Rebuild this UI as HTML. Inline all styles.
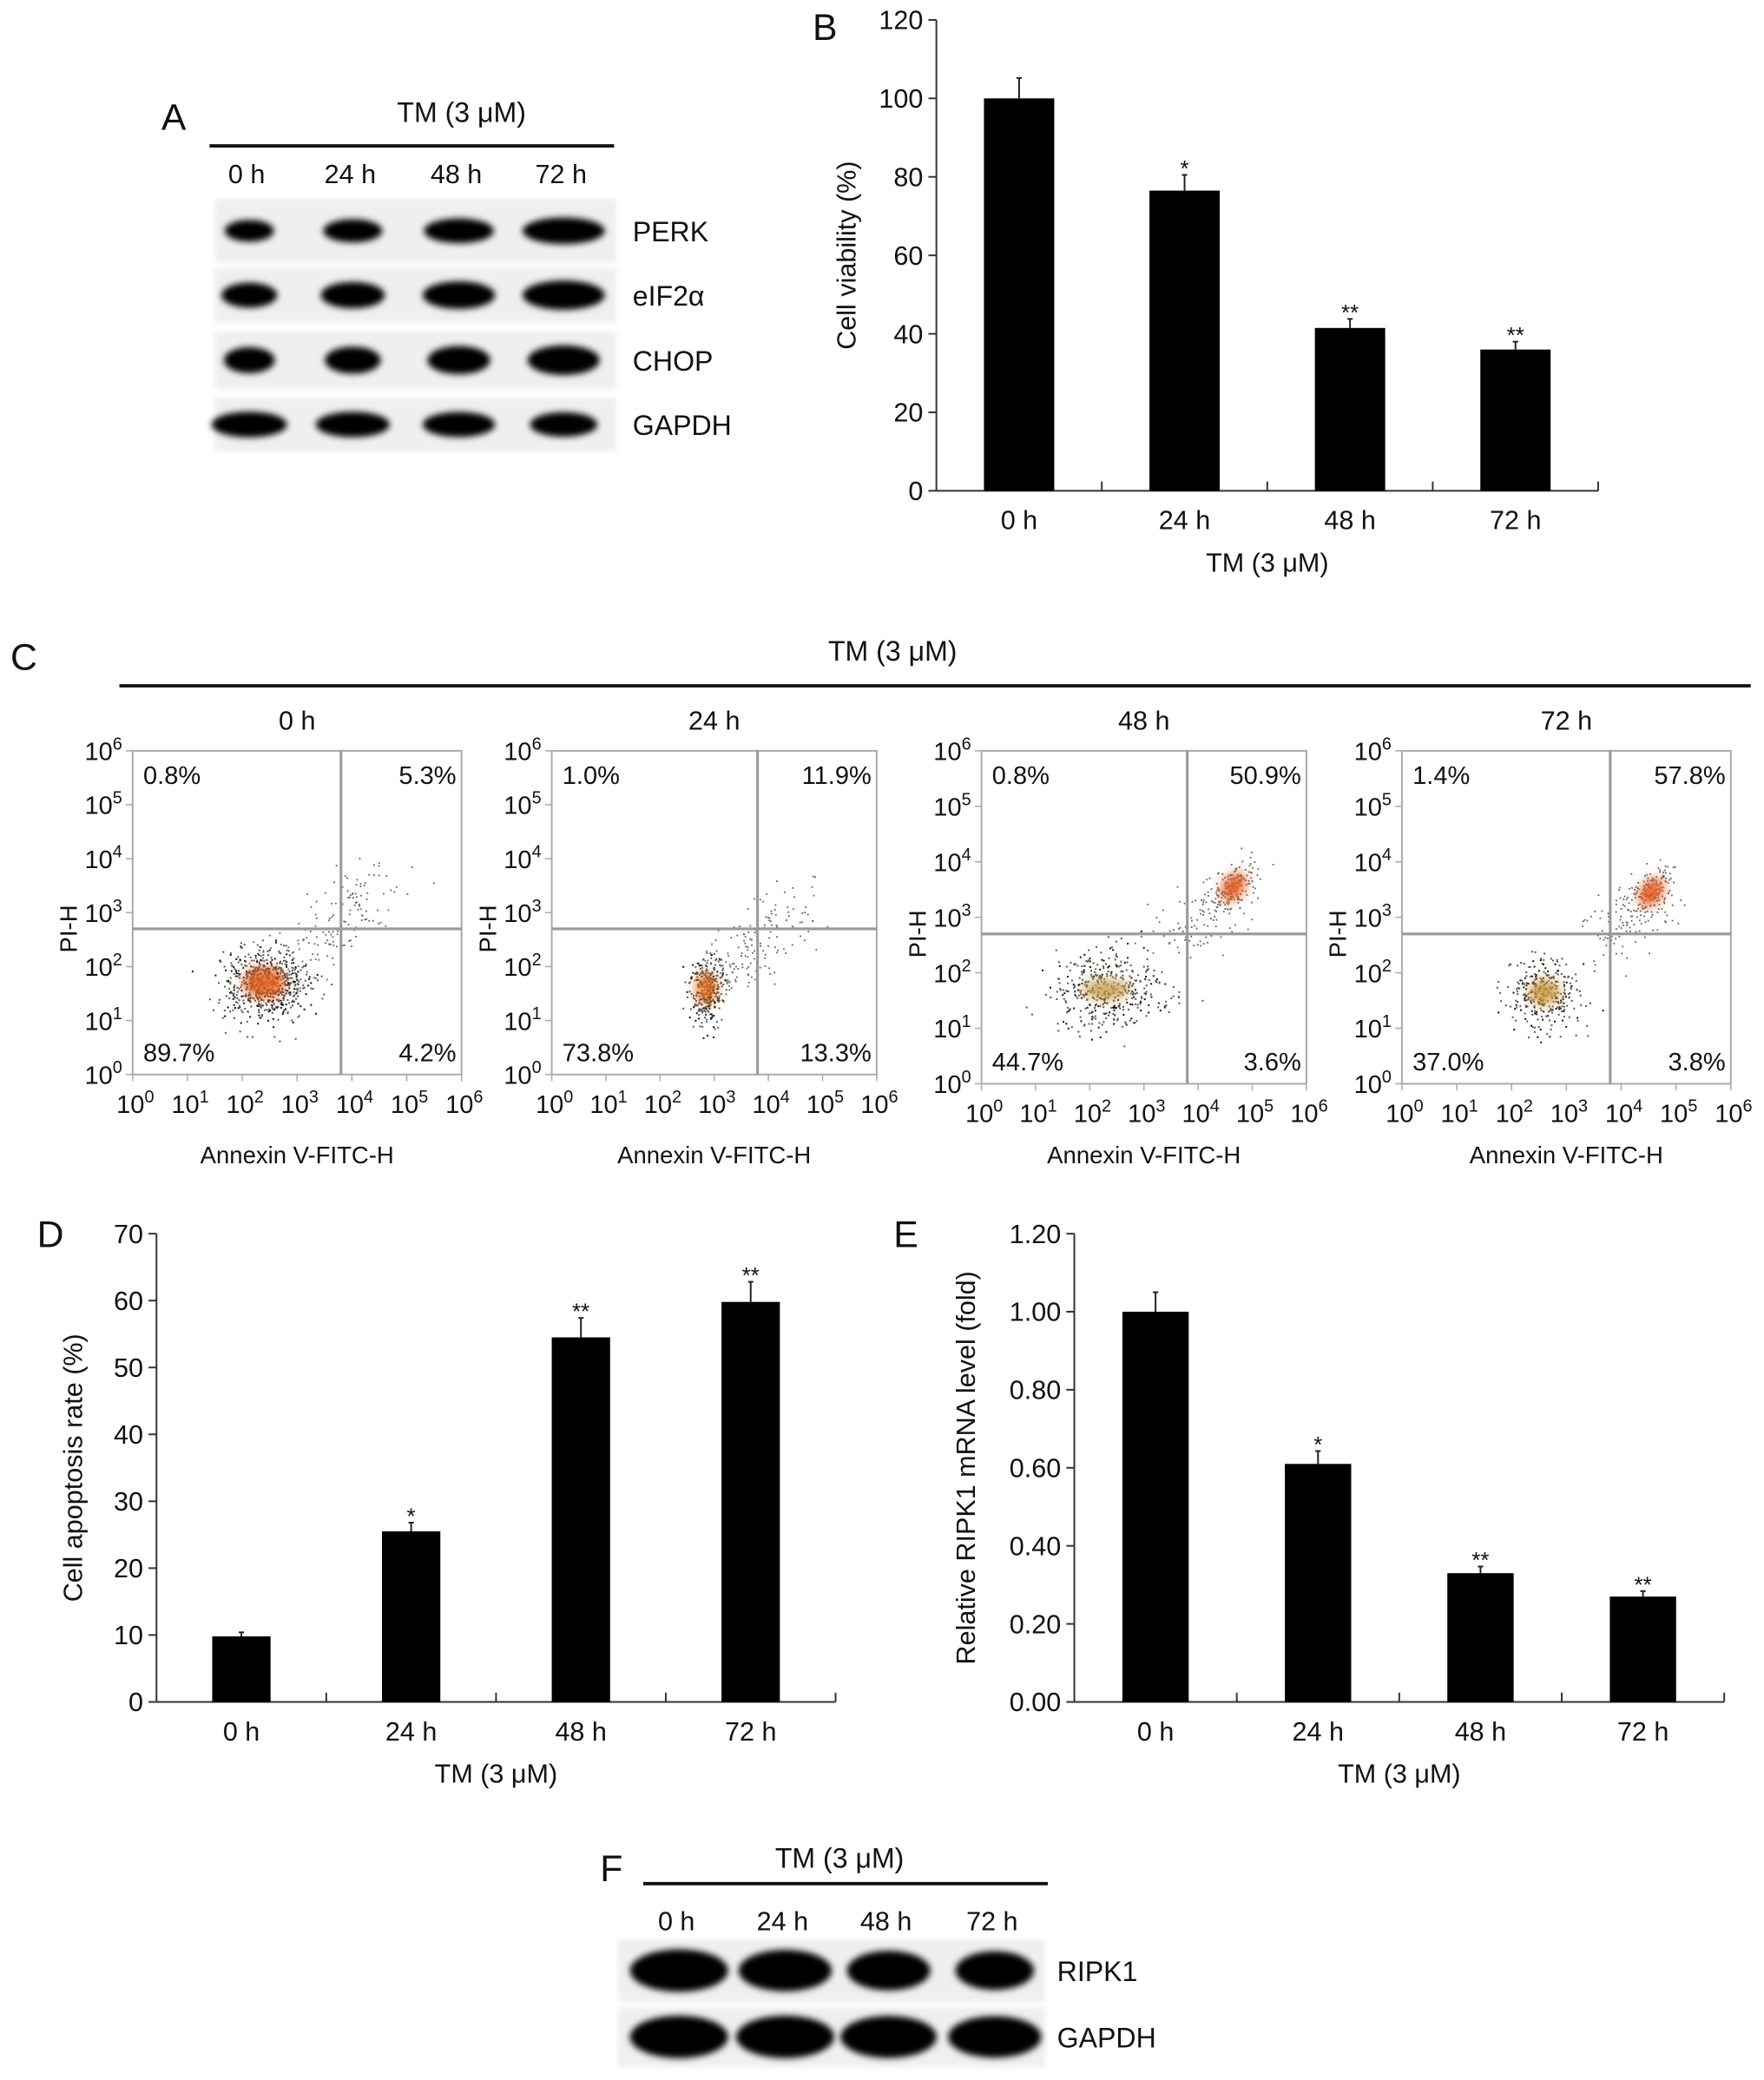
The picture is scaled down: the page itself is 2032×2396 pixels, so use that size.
<!DOCTYPE html>
<html><head><meta charset="utf-8"><style>
html,body{margin:0;padding:0;background:#fff;}
svg{display:block;}
text{font-family:"Liberation Sans",Arial,sans-serif;fill:#111;}
</style></head><body>
<svg id="fig" xmlns="http://www.w3.org/2000/svg" width="2032" height="2396" viewBox="0 0 1330 1568" preserveAspectRatio="none">
<defs>
<filter id="blur" x="-30%" y="-60%" width="160%" height="220%"><feGaussianBlur stdDeviation="2.5"/></filter>
<filter id="blur2" x="-10%" y="-20%" width="120%" height="140%"><feGaussianBlur stdDeviation="2"/></filter>
<filter id="blurc" x="-50%" y="-50%" width="200%" height="200%"><feGaussianBlur stdDeviation="4"/></filter>
</defs>
<g id="root"></g>
</svg>
<script>
// ---- Panel B data ----
const bCategories = ["0 h","24 h","48 h","72 h"];
const bValues = [100, 76.5, 41.5, 36];
const bErrors = [5.2, 4, 2.3, 2];
const bStars = ["", "*", "**", "**"];
const bTicks = [0,20,40,60,80,100,120];
// ---- Panel D data ----
const dCategories = ["0 h","24 h","48 h","72 h"];
const dValues = [9.8, 25.5, 54.5, 59.8];
const dErrors = [0.6, 1.3, 2.9, 3.0];
const dStars = ["", "*", "**", "**"];
const dTicks = [0,10,20,30,40,50,60,70];
// ---- Panel E data ----
const eCategories = ["0 h","24 h","48 h","72 h"];
const eValues = [1.0, 0.61, 0.33, 0.27];
const eErrors = [0.05, 0.033, 0.017, 0.014];
const eStars = ["", "*", "**", "**"];
const eTicks = [0,0.2,0.4,0.6,0.8,1.0,1.2];
const eTickLabels = ["0.00","0.20","0.40","0.60","0.80","1.00","1.20"];
// ---- Flow cytometry data ----
const flowTimes = ["0 h","24 h","48 h","72 h"];
const flowUL = ["0.8%","1.0%","0.8%","1.4%"];
const flowUR = ["5.3%","11.9%","50.9%","57.8%"];
const flowLL = ["89.7%","73.8%","44.7%","37.0%"];
const flowLR = ["4.2%","13.3%","3.6%","3.8%"];
// live-cell cluster centres (log10 units) and apoptotic cluster centres
const flowLiveX = [2.4, 2.85, 2.3, 2.6];
const flowLiveY = [1.7, 1.6, 1.7, 1.65];
const flowApopX = [4.7, 4.6, 4.65, 4.55];
const flowApopY = [3.6, 3.2, 3.55, 3.45];
// ---- Western blot band intensities (relative width) ----
const wbA_PERK = [0.6, 0.72, 0.85, 1.0];
const wbA_eIF = [0.68, 0.78, 0.88, 1.0];
const wbA_CHOP = [0.6, 0.66, 0.74, 0.85];
const wbA_GAPDH = [0.92, 0.9, 0.88, 0.82];
const wbF_RIPK1 = [1.0, 0.95, 0.85, 0.8];
const wbF_GAPDH = [1.0, 1.0, 0.98, 0.95];

const NS="http://www.w3.org/2000/svg";
const root=document.getElementById('root');
function el(tag,attrs,parent){const e=document.createElementNS(NS,tag);for(const k in attrs)e.setAttribute(k,attrs[k]);(parent||root).appendChild(e);return e;}
function txt(s,x,y,size,anchor,parent,extra){const t=el('text',Object.assign({x:x,y:y,'font-size':size,'text-anchor':anchor||'middle'},extra||{}),parent);t.textContent=s;return t;}

// ---------- Bar charts ----------
function barChart(cfg){
  const g=el('g',{});
  
  
  const yS=v=>cfg.y0-(v-cfg.vmin)/(cfg.vmax-cfg.vmin)*(cfg.y0-cfg.y1);
  const n=cfg.cats.length, step=(cfg.x1-cfg.x0)/n;
  const xC=i=>cfg.x0+step*(i+0.5);
  const ax=el('line',{x1:cfg.x0,y1:cfg.y0,x2:cfg.x0,y2:cfg.y1,stroke:'#333','stroke-width':1.3},g);
  
  const bx=el('line',{x1:cfg.x0,y1:cfg.y0,x2:cfg.x1,y2:cfg.y0,stroke:'#333','stroke-width':1.3},g);
  
  cfg.ticks.forEach((t,i)=>{
    el('line',{x1:cfg.x0-6,y1:yS(t),x2:cfg.x0,y2:yS(t),stroke:'#333','stroke-width':1.3},g);
    const l=txt(cfg.tickLabels?cfg.tickLabels[i]:String(t),cfg.x0-10,yS(t)+7,20,'end',g);
    
  });
  for(let i=1;i<=n;i++) el('line',{x1:cfg.x0+step*i,y1:cfg.y0,x2:cfg.x0+step*i,y2:cfg.y0-7,stroke:'#333','stroke-width':1.3},g);
  cfg.vals.forEach((v,i)=>{
    const cx=xC(i), w=cfg.bw;
    const top=yS(v+cfg.errs[i]);
    el('line',{x1:cx,y1:yS(v),x2:cx,y2:top,stroke:'#222','stroke-width':1.3},g);
    el('line',{x1:cx-2,y1:top,x2:cx+2,y2:top,stroke:'#222','stroke-width':1.3},g);
    const r=el('rect',{x:cx-w/2,y:yS(v),width:w,height:cfg.y0-yS(v),fill:'#000'},g);
    
    
    if(cfg.stars[i]){const s=txt(cfg.stars[i],cx,top+1,17,'middle',g);}
    const c=txt(cfg.cats[i],cx,cfg.y0+29,20,'middle',g);
    
  });
  const xt=txt('TM (3 μM)',(cfg.x0+cfg.x1)/2,cfg.y0+61,20,'middle',g);
  
  const yt=txt(cfg.ytitle,0,0,20,'middle',g,{transform:`translate(${cfg.ytx},${(cfg.y0+cfg.y1)/2}) rotate(-90)`});
  
}
barChart({name:'panel-b-viability-chart',cats:bCategories,vals:bValues,errs:bErrors,stars:bStars,ticks:bTicks,vmin:0,vmax:120,x0:706,x1:1205,y0:370,y1:15,bw:53,ytitle:'Cell viability (%)',ytx:645});
barChart({name:'panel-d-apoptosis-chart',cats:dCategories,vals:dValues,errs:dErrors,stars:dStars,ticks:dTicks,vmin:0,vmax:70,x0:118,x1:630,y0:1283,y1:930,bw:44,ytitle:'Cell apoptosis rate (%)',ytx:62});
barChart({name:'panel-e-ripk1-mrna-chart',cats:eCategories,vals:eValues,errs:eErrors,stars:eStars,ticks:eTicks,tickLabels:eTickLabels,vmin:0,vmax:1.2,x0:810,x1:1300,y0:1283,y1:930,bw:50,ytitle:'Relative RIPK1 mRNA level (fold)',ytx:735});

// ---------- Panel letters ----------
[['A',131,98],['B',622,30],['C',18,505],['D',38,940],['E',683,940],['F',461,1418]].forEach(p=>{
  const t=txt(p[0],p[1],p[2],28,'middle');
  
});

// ---------- Western blots ----------
function blot(name,x0,x1,lanes,rows,labelX,hdr){
  const g=el('g',{});
  
  const t=txt('TM (3 μM)',hdr.tx,hdr.ty,21,'middle',g);
  
  el('line',{x1:hdr.lx0,y1:hdr.ly,x2:hdr.lx1,y2:hdr.ly,stroke:'#111','stroke-width':2.5},g);
  lanes.forEach(l=>{const lt=txt(l.t,l.x,hdr.laneY,20,'middle',g);});
  rows.forEach(r=>{
    const bg=el('rect',{x:x0,y:r.y0,width:x1-x0,height:r.y1-r.y0,fill:'#efefef',filter:'url(#blur2)'},g);
    
    const cy=(r.y0+r.y1)/2;
    r.vals.forEach((v,i)=>{
      el('ellipse',{cx:lanes[i].x+2,cy:cy,rx:r.rx*v,ry:r.ry*(0.55+0.45*v),fill:'#050505',filter:'url(#blur)'},g);
    });
    const lb=txt(r.label,labelX,cy+8,21,'start',g);
    
  });
}
blot('panel-a-western-blot',162,465,
 [{t:'0 h',x:186},{t:'24 h',x:264},{t:'48 h',x:344},{t:'72 h',x:423}],
 [{label:'PERK',y0:150,y1:198,vals:wbA_PERK,rx:31,ry:10},
  {label:'eIF2α',y0:202,y1:243,vals:wbA_eIF,rx:31,ry:11},
  {label:'CHOP',y0:250,y1:293,vals:wbA_CHOP,rx:32,ry:12},
  {label:'GAPDH',y0:300,y1:340,vals:wbA_GAPDH,rx:31,ry:10}],
 477,{tx:348,ty:92,lx0:158,lx1:463,ly:110,laneY:138});
blot('panel-f-western-blot',466,788,
 [{t:'0 h',x:510},{t:'24 h',x:590},{t:'48 h',x:668},{t:'72 h',x:748}],
 [{label:'RIPK1',y0:1462,y1:1509,vals:wbF_RIPK1,rx:37,ry:16},
  {label:'GAPDH',y0:1513,y1:1558,vals:wbF_GAPDH,rx:37,ry:16}],
 797,{tx:633,ty:1408,lx0:485,lx1:790,ly:1420,laneY:1455});

// ---------- Panel C header ----------
{const t=txt('TM (3 μM)',673,498,21,'middle');
 el('line',{x1:90,y1:517,x2:1320,y2:517,stroke:'#111','stroke-width':2.5});}

// ---------- Flow cytometry ----------
let seed=12345;
function rnd(){seed=(seed*16807)%2147483647;return seed/2147483647;}
function gauss(){let u=rnd()||1e-9,v=rnd();return Math.sqrt(-2*Math.log(u))*Math.cos(2*Math.PI*v);}
const boxes=[[100,348,566,810],[416,661,566,810],[740,985,566,817],[1057,1305,566,817]];
const gateX=3.8, gateY=2.7;
boxes.forEach((b,k)=>{
  const [x0,x1,y0,y1]=b;
  const g=el('g',{});
  
  
  const X=d=>x0+d/6*(x1-x0), Y=d=>y1-d/6*(y1-y0);
  const cx=(x0+x1)/2;
  const st=txt(flowTimes[k],cx,550,20,'middle',g);
  
  const dots=el('g',{},g);
  const nLive=[650,320,420,330][k], nApo=[170,170,260,260][k];
  for(let i=0;i<nLive;i++){
    const sx=[0.38,0.15,0.5,0.35][k];
    const px=flowLiveX[k]+gauss()*sx, py=flowLiveY[k]+gauss()*0.32;
    if(px<0||px>6||py<0||py>6)continue;
    el('rect',{x:X(px),y:Y(py),width:1.3,height:1.3,fill:i%3?'#555':'#111'},dots);
  }
  for(let i=0;i<nApo;i++){
    const t=rnd();
    let px,py;
    if(k>=2&&t<0.55){px=flowApopX[k]+gauss()*0.2;py=flowApopY[k]+gauss()*0.18+(px-flowApopX[k])*0.6;}
    else{px=flowLiveX[k]+(flowApopX[k]-flowLiveX[k])*t+gauss()*0.3;py=flowLiveY[k]+(flowApopY[k]-flowLiveY[k])*t+gauss()*0.3;}
    if(px<0||px>6||py<0||py>6)continue;
    el('rect',{x:X(px),y:Y(py),width:1.2,height:1.2,fill:'#666'},dots);
  }
  const coreR=[[16,12],[8,12],[18,8],[12,10]][k];
  el('ellipse',{cx:X(flowLiveX[k]),cy:Y(flowLiveY[k]),rx:coreR[0],ry:coreR[1],fill:['#e8601c','#e8701c','#c8a050','#d09a40'][k],opacity:0.85,filter:'url(#blurc)'},g);
  if(k>=2){el('ellipse',{cx:X(flowApopX[k]),cy:Y(flowApopY[k]),rx:8,ry:12,fill:'#e85a1c',opacity:0.9,filter:'url(#blurc)',transform:`rotate(35 ${X(flowApopX[k])} ${Y(flowApopY[k])})`},g);}
  el('rect',{x:x0,y:y0,width:x1-x0,height:y1-y0,fill:'none',stroke:'#aaa','stroke-width':1.3},g);
  el('line',{x1:X(gateX),y1:y0,x2:X(gateX),y2:y1,stroke:'#999','stroke-width':2},g);
  el('line',{x1:x0,y1:Y(gateY),x2:x1,y2:Y(gateY),stroke:'#999','stroke-width':2},g);
  for(let d=0;d<=6;d++){
    el('line',{x1:X(d),y1:y1,x2:X(d),y2:y1+5,stroke:'#aaa','stroke-width':1},g);
    el('line',{x1:x0-5,y1:Y(d),x2:x0,y2:Y(d),stroke:'#aaa','stroke-width':1},g);
    const xl=el('text',{x:X(d)+2,y:y1+29,'font-size':19,'text-anchor':'middle'},g);
    xl.innerHTML='10<tspan dy="-8" font-size="13">'+d+'</tspan>';
    
    const yl=el('text',{x:x0-22,y:Y(d)+7,'font-size':19,'text-anchor':'middle'},g);
    yl.innerHTML='10<tspan dy="-8" font-size="13">'+d+'</tspan>';
    
  }
  [[flowUL[k],x0+8,y0+25,'start'],[flowUR[k],x1-4,y0+25,'end'],[flowLL[k],x0+8,y1-10,'start'],[flowLR[k],x1-4,y1-10,'end']].forEach(q=>{
    const t=txt(q[0],q[1],q[2],19,q[3],g);
    
  });
  const at=txt('Annexin V-FITC-H',cx,877,18,'middle',g);
  
  const pt=txt('PI-H',0,0,18,'middle',g,{transform:`translate(${x0-42},${Y(gateY)}) rotate(-90)`});
  
});
</script>
</body></html>
